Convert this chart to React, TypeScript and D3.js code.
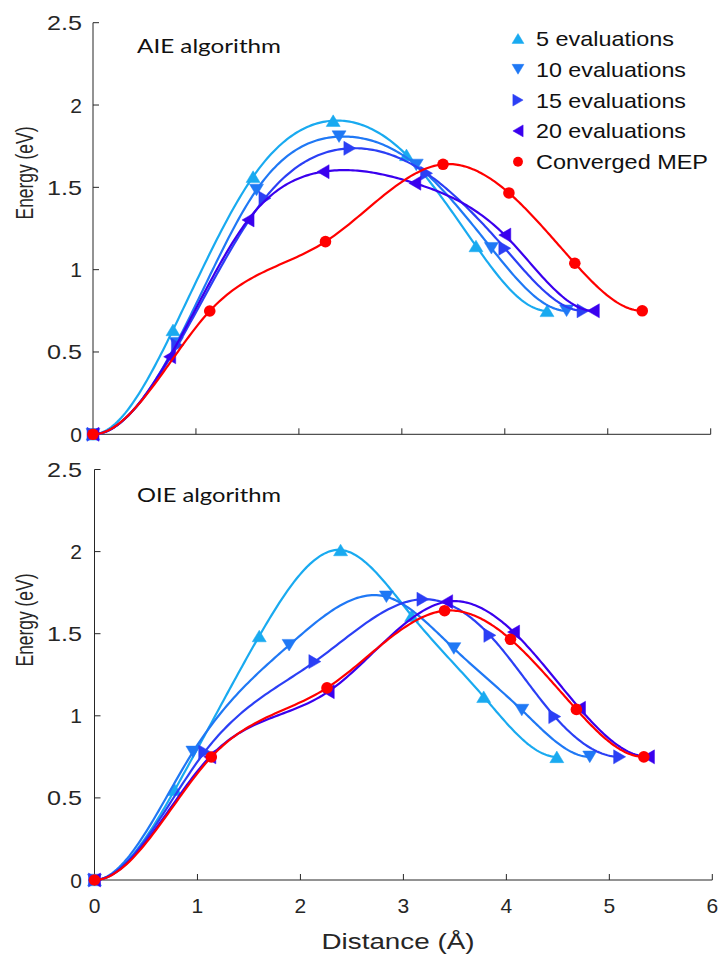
import React from 'react';
import * as d3 from 'd3';

const xTicks = [0, 1, 2, 3, 4, 5, 6];
const yTicks = [0, 0.5, 1, 1.5, 2, 2.5];
const yTickLabels = ['0', '0.5', '1', '1.5', '2', '2.5'];

const seriesNames = ['5 evaluations', '10 evaluations', '15 evaluations', '20 evaluations', 'Converged MEP'];
const seriesColors = ['#19aaf0', '#1f78f5', '#2b3ff5', '#3a00ee', '#ff0000'];
const markerShapes = ['up', 'down', 'right', 'left', 'circle'];

// AIE algorithm (top panel)
const aieX5 = [0, 0.777, 1.555, 2.333, 3.045, 3.72, 4.41];
const aieY5 = [0, 0.634, 1.565, 1.905, 1.697, 1.144, 0.75];
const aieX10 = [0, 0.81, 1.588, 2.39, 3.14, 3.87, 4.6];
const aieY10 = [0, 0.553, 1.484, 1.808, 1.636, 1.13, 0.75];
const aieX15 = [0, 0.82, 1.67, 2.495, 3.24, 4.0, 4.76];
const aieY15 = [0, 0.54, 1.434, 1.737, 1.585, 1.13, 0.75];
const aieX20 = [0, 0.745, 1.506, 2.235, 3.126, 4.0, 4.86];
const aieY20 = [0, 0.471, 1.302, 1.595, 1.525, 1.21, 0.75];

// Converged MEP (both panels)
const mepX = [0, 1.134, 2.258, 3.4, 4.04, 4.68, 5.335];
const mepY = [0, 0.749, 1.17, 1.64, 1.466, 1.039, 0.75];

// OIE algorithm (bottom panel)
const oieX5 = [0, 0.78, 1.6, 2.39, 3.08, 3.78, 4.49];
const oieY5 = [0, 0.55, 1.486, 2.01, 1.61, 1.116, 0.75];
const oieX10 = [0, 0.956, 1.89, 2.835, 3.49, 4.15, 4.81];
const oieY10 = [0, 0.78, 1.43, 1.725, 1.41, 1.035, 0.75];
const oieX15 = [0, 1.07, 2.14, 3.19, 3.84, 4.47, 5.1];
const oieY15 = [0, 0.78, 1.33, 1.71, 1.49, 0.995, 0.75];
const oieX20 = [0, 1.12, 2.27, 3.42, 4.07, 4.71, 5.38];
const oieY20 = [0, 0.75, 1.147, 1.695, 1.51, 1.046, 0.75];

const aieSeries = [
  [aieX5, aieY5],
  [aieX10, aieY10],
  [aieX15, aieY15],
  [aieX20, aieY20],
  [mepX, mepY],
];
const oieSeries = [
  [oieX5, oieY5],
  [oieX10, oieY10],
  [oieX15, oieY15],
  [oieX20, oieY20],
  [mepX, mepY],
];

// clamped cubic spline (zero end slopes), sampled for drawing
function splineSamples(xs: number[], ys: number[]): [number, number][] {
  const n = xs.length;
  const h: number[] = [];
  const del: number[] = [];
  for (let i = 0; i < n - 1; i++) {
    h.push(xs[i + 1] - xs[i]);
    del.push((ys[i + 1] - ys[i]) / h[i]);
  }
  const m = new Array(n).fill(0);
  const k = n - 2;
  if (k > 0) {
    const a: number[] = [], b: number[] = [], c: number[] = [], d: number[] = [];
    for (let i = 1; i <= k; i++) {
      a.push(h[i]);
      b.push(2 * (h[i - 1] + h[i]));
      c.push(h[i - 1]);
      d.push(3 * (h[i] * del[i - 1] + h[i - 1] * del[i]));
    }
    const cp: number[] = [], dp: number[] = [];
    for (let i = 0; i < k; i++) {
      const den = b[i] - (i > 0 ? a[i] * cp[i - 1] : 0);
      cp.push(c[i] / den);
      dp.push((d[i] - (i > 0 ? a[i] * dp[i - 1] : 0)) / den);
    }
    const sol = new Array(k).fill(0);
    for (let i = k - 1; i >= 0; i--) sol[i] = dp[i] - (i < k - 1 ? cp[i] * sol[i + 1] : 0);
    for (let i = 0; i < k; i++) m[i + 1] = sol[i];
  }
  const out: [number, number][] = [];
  const steps = 40;
  for (let i = 0; i < n - 1; i++) {
    for (let s = 0; s <= steps; s++) {
      if (i > 0 && s === 0) continue;
      const t = s / steps;
      const t2 = t * t, t3 = t2 * t;
      const h00 = 2 * t3 - 3 * t2 + 1;
      const h10 = t3 - 2 * t2 + t;
      const h01 = -2 * t3 + 3 * t2;
      const h11 = t3 - t2;
      const y = h00 * ys[i] + h10 * h[i] * m[i] + h01 * ys[i + 1] + h11 * h[i] * m[i + 1];
      out.push([xs[i] + t * h[i], y]);
    }
  }
  return out;
}

function markerPath(shape: string, cx: number, cy: number, s: number): string {
  const w = 7 * s, hh = 5.8 * s, ww = 6 * s, hv = 7 * s;
  switch (shape) {
    case 'up':
      return `M${cx},${cy - hh}L${cx + w},${cy + hh}L${cx - w},${cy + hh}Z`;
    case 'down':
      return `M${cx},${cy + hh}L${cx + w},${cy - hh}L${cx - w},${cy - hh}Z`;
    case 'right':
      return `M${cx + ww},${cy}L${cx - ww},${cy - hv}L${cx - ww},${cy + hv}Z`;
    case 'left':
      return `M${cx - ww},${cy}L${cx + ww},${cy - hv}L${cx + ww},${cy + hv}Z`;
    default:
      return '';
  }
}

function Marker({ shape, cx, cy, color, s }: any) {
  if (shape === 'circle') return <circle cx={cx} cy={cy} r={5.8 * s} fill={color} />;
  return <path d={markerPath(shape, cx, cy, s)} fill={color} stroke={color} strokeWidth={0.5} />;
}

const tickFont = 'Liberation Sans, Arial, Helvetica, sans-serif';
const axisColor = '#262626';

function Panel({ series, x0, x1, y0, y1, title, titleY, showXLabels, ylabelY }: any) {
  const x = d3.scaleLinear().domain([0, 6]).range([x0, x1]);
  const y = d3.scaleLinear().domain([0, 2.5]).range([y0, y1]);
  const line = d3.line<[number, number]>().x(d => x(d[0])).y(d => y(d[1]));
  return (
    <g>
      <line x1={x(0)} x2={x(6)} y1={y(0)} y2={y(0)} stroke={axisColor} strokeWidth={1} />
      <line x1={x(0)} x2={x(0)} y1={y(0)} y2={y(2.5)} stroke={axisColor} strokeWidth={1} />
      {xTicks.map(t => (
        <line key={'xt' + t} x1={x(t)} x2={x(t)} y1={y(0)} y2={y(0) - 6} stroke={axisColor} strokeWidth={1} />
      ))}
      {yTicks.map(t => (
        <line key={'yt' + t} x1={x(0)} x2={x(0) + 6} y1={y(t)} y2={y(t)} stroke={axisColor} strokeWidth={1} />
      ))}
      {yTicks.map((t, i) => (
        <text
          key={'yl' + t}
          x={82}
          y={y(t) + 7.5}
          textAnchor="end"
          fontFamily={tickFont}
          fontSize={21}
          fill={axisColor}
          {...(yTickLabels[i].length > 1 ? { textLength: 35, lengthAdjust: 'spacingAndGlyphs' } : {})}
        >
          {yTickLabels[i]}
        </text>
      ))}
      {showXLabels &&
        xTicks.map(t => (
          <text key={'xl' + t} x={x(t)} y={913} textAnchor="middle" fontFamily={tickFont} fontSize={21} fill={axisColor}>
            {String(t)}
          </text>
        ))}
      <text
        transform={`translate(33,${ylabelY}) rotate(-90)`}
        textAnchor="middle"
        fontFamily={tickFont}
        fontSize={23}
        fill={axisColor}
        textLength={93}
        lengthAdjust="spacingAndGlyphs"
      >
        Energy (eV)
      </text>
      <text x={137} y={titleY} fontFamily="Lato, 'Open Sans', sans-serif" fontSize={19} fill="#111" textLength={144} lengthAdjust="spacingAndGlyphs">
        {title}
      </text>
      {series.map(([xs, ys]: any, i: number) => (
        <g key={'s' + i}>
          <path d={line(splineSamples(xs, ys)) || ''} fill="none" stroke={seriesColors[i]} strokeWidth={2.2} />
          {xs.map((xv: number, j: number) => (
            <Marker key={j} shape={markerShapes[i]} cx={x(xv)} cy={y(ys[j])} color={seriesColors[i]} s={1} />
          ))}
        </g>
      ))}
    </g>
  );
}

const legendWidths = [138, 150, 150, 150, 172];

export default function App() {
  return (
    <svg width={722} height={957} style={{ position: 'absolute', left: 0, top: 0, background: '#fff' }}>
      <rect x={0} y={0} width={722} height={957} fill="#fff" />
      <Panel series={aieSeries} x0={93} x1={710.7} y0={434.3} y1={22.7} title="AIE algorithm" titleY={53} showXLabels={false} ylabelY={173} />
      <Panel series={oieSeries} x0={94.5} x1={712.3} y0={880} y1={469.5} title="OIE algorithm" titleY={502} showXLabels={true} ylabelY={620} />
      <text x={398} y={949} textAnchor="middle" fontFamily={tickFont} fontSize={22} fill={axisColor} textLength={153} lengthAdjust="spacingAndGlyphs">
        Distance (Å)
      </text>
      {seriesNames.map((name, i) => {
        const cy = 38.5 + i * 30.8;
        return (
          <g key={'lg' + i}>
            <Marker shape={markerShapes[i]} cx={518} cy={cy} color={seriesColors[i]} s={0.85} />
            <text x={536} y={cy + 7.5} fontFamily={tickFont} fontSize={21} fill="#111" textLength={legendWidths[i]} lengthAdjust="spacingAndGlyphs">
              {name}
            </text>
          </g>
        );
      })}
    </svg>
  );
}
